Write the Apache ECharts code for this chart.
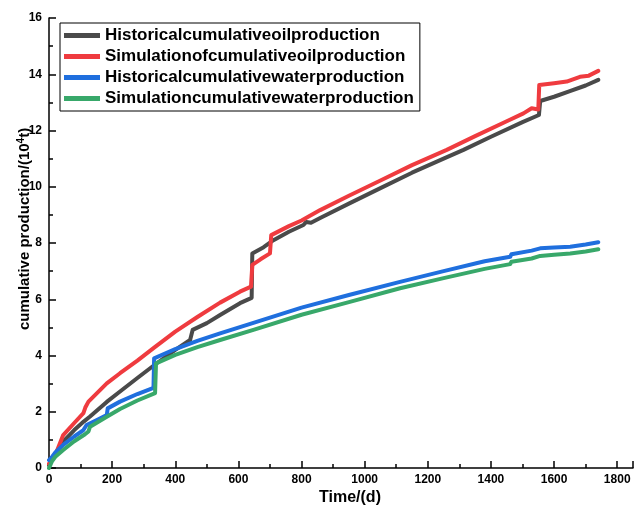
<!DOCTYPE html>
<html>
<head>
<meta charset="utf-8">
<script src="https://cdn.jsdelivr.net/npm/echarts@6/dist/echarts.min.js"></script>
<style>
  html, body { margin: 0; padding: 0; background: #fff; }
  #chart { width: 644px; height: 506px; }
</style>
</head>
<body>
<div id="chart"></div>
<script>
// Series names shown in the legend
const seriesNames = [
  'Historicalcumulativeoilproduction',
  'Simulationofcumulativeoilproduction',
  'Historicalcumulativewaterproduction',
  'Simulationcumulativewaterproduction'
];

// Historical cumulative oil production (days, 10^4 t)
const histOilDays = [0, 10, 20, 45, 80, 110, 130, 183, 225, 280, 336, 400, 447, 455, 500, 542, 605, 642, 644, 680, 711, 760, 806, 815, 830, 859, 950, 1050, 1150, 1250, 1313, 1400, 1500, 1552, 1556, 1600, 1650, 1700, 1740];
const histOilValues = [0.1, 0.3, 0.5, 0.94, 1.35, 1.65, 1.83, 2.35, 2.72, 3.2, 3.68, 4.2, 4.55, 4.91, 5.15, 5.44, 5.86, 6.05, 7.63, 7.85, 8.1, 8.4, 8.64, 8.75, 8.72, 8.89, 9.4, 9.95, 10.5, 11.0, 11.31, 11.78, 12.3, 12.55, 13.05, 13.2, 13.4, 13.6, 13.8];

// Simulated cumulative oil production
const simOilDays = [0, 10, 20, 45, 80, 109, 115, 125, 183, 225, 280, 331, 400, 470, 542, 605, 640, 644, 670, 700, 704, 760, 800, 859, 950, 1050, 1150, 1260, 1350, 1450, 1503, 1529, 1550, 1553, 1600, 1640, 1682, 1710, 1740];
const simOilValues = [0.15, 0.3, 0.46, 1.17, 1.6, 1.95, 2.15, 2.36, 3.01, 3.37, 3.82, 4.26, 4.85, 5.37, 5.88, 6.27, 6.45, 7.22, 7.42, 7.63, 8.28, 8.6, 8.8, 9.17, 9.68, 10.22, 10.77, 11.31, 11.8, 12.33, 12.61, 12.79, 12.75, 13.62, 13.68, 13.74, 13.91, 13.95, 14.12];

// Historical cumulative water production
const histWaterDays = [0, 10, 20, 45, 80, 109, 119, 150, 183, 186, 225, 280, 331, 333, 400, 470, 542, 650, 800, 950, 1112, 1250, 1380, 1461, 1465, 1529, 1556, 1600, 1651, 1700, 1740];
const histWaterValues = [0.28, 0.4, 0.55, 0.82, 1.12, 1.35, 1.53, 1.7, 1.88, 2.12, 2.36, 2.63, 2.85, 3.9, 4.23, 4.52, 4.79, 5.17, 5.7, 6.15, 6.62, 7.0, 7.35, 7.51, 7.6, 7.73, 7.81, 7.84, 7.87, 7.95, 8.03];

// Simulated cumulative water production
const simWaterDays = [0, 10, 20, 45, 80, 114, 125, 130, 183, 225, 280, 336, 339, 400, 470, 542, 650, 800, 950, 1112, 1250, 1380, 1461, 1465, 1529, 1556, 1600, 1651, 1700, 1740];
const simWaterValues = [0.0, 0.25, 0.4, 0.64, 0.95, 1.2, 1.3, 1.47, 1.82, 2.1, 2.4, 2.66, 3.72, 4.02, 4.3, 4.55, 4.92, 5.45, 5.9, 6.39, 6.75, 7.08, 7.25, 7.33, 7.45, 7.54, 7.58, 7.63, 7.7, 7.78];

const lineColors = ['#4a4a4a', '#ef3b3f', '#1f6fde', '#38a86a'];

const pairs = (xs, ys) => xs.map((x, i) => [x, ys[i]]);
const seriesData = [
  pairs(histOilDays, histOilValues),
  pairs(simOilDays, simOilValues),
  pairs(histWaterDays, histWaterValues),
  pairs(simWaterDays, simWaterValues)
];

const font = '"Liberation Sans", Arial, sans-serif';
const plain = v => String(v);

const chart = echarts.init(document.getElementById('chart'), null, { renderer: 'canvas' });
chart.setOption({
  animation: false,
  backgroundColor: '#fff',
  grid: { left: 49, top: 18, right: 11, bottom: 38, containLabel: false, outerBoundsMode: 'none' },
  legend: {
    orient: 'vertical',
    left: 60,
    top: 23,
    padding: [4, 6, 4, 4],
    itemGap: 4,
    itemWidth: 36,
    itemHeight: 5,
    icon: 'rect',
    borderColor: '#000',
    borderWidth: 1,
    borderRadius: 0,
    textStyle: { fontFamily: font, fontWeight: 'bold', fontSize: 17, color: '#000', padding: [0, 0, 0, 0] },
    data: seriesNames
  },
  xAxis: {
    type: 'value',
    min: 0,
    max: 1850,
    interval: 200,
    name: 'Time/(d)',
    nameLocation: 'middle',
    nameGap: 22,
    nameMoveOverlap: false,
    nameTextStyle: { fontFamily: font, fontWeight: 'bold', fontSize: 16, color: '#000', padding: [0, 0, 0, 18] },
    axisLine: { show: true, onZero: false, lineStyle: { color: '#000', width: 1.5 } },
    axisTick: { show: true, inside: true, length: 7, lineStyle: { color: '#000', width: 1.5 } },
    minorTick: { show: true, splitNumber: 2, length: 4, lineStyle: { color: '#000', width: 1.5 } },
    axisLabel: { fontFamily: font, fontWeight: 'bold', fontSize: 12, color: '#000', margin: 6, showMaxLabel: false, formatter: plain },
    splitLine: { show: false }
  },
  yAxis: {
    type: 'value',
    min: 0,
    max: 16,
    interval: 2,
    name: 'cumulative production/(10{sup|4}t)',
    nameLocation: 'middle',
    nameGap: 15,
    nameMoveOverlap: false,
    nameRotate: 90,
    nameTextStyle: {
      fontFamily: font, fontWeight: 'bold', fontSize: 15, color: '#000',
      padding: [0, 0, 0, 28],
      rich: {
        sup: { fontFamily: font, fontWeight: 'bold', fontSize: 10, color: '#000', verticalAlign: 'top', padding: [0, 0, 8, 0] }
      }
    },
    axisLine: { show: true, onZero: false, lineStyle: { color: '#000', width: 1.5 } },
    axisTick: { show: true, inside: true, length: 7, lineStyle: { color: '#000', width: 1.5 } },
    minorTick: { show: true, splitNumber: 2, length: 4, lineStyle: { color: '#000', width: 1.5 } },
    axisLabel: { fontFamily: font, fontWeight: 'bold', fontSize: 12, color: '#000', margin: 7, formatter: plain },
    splitLine: { show: false }
  },
  series: seriesNames.map((name, i) => ({
    name,
    type: 'line',
    data: seriesData[i],
    showSymbol: false,
    symbol: 'none',
    smooth: false,
    color: lineColors[i],
    lineStyle: { width: 4, color: lineColors[i], join: 'round', cap: 'round' },
    z: 2 + i
  }))
});
</script>
</body>
</html>
